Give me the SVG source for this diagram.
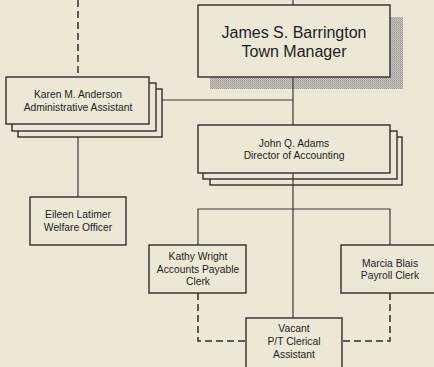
<svg xmlns="http://www.w3.org/2000/svg" width="434" height="367" viewBox="0 0 434 367">
<style>
.box{fill:#ebe8d5;stroke:#2e2e2e;stroke-width:1.4}
.ln{fill:none;stroke:#3a3a3a;stroke-width:1.2}
.dash{fill:none;stroke:#2e2e2e;stroke-width:1.5;stroke-dasharray:7 4}
text{font-family:"Liberation Sans",Arial,sans-serif;fill:#1e1e1e;text-anchor:middle}
.big{font-size:16px}
.sm{font-size:10.3px}
</style>
<defs>
<pattern id="stip" width="2" height="2" patternUnits="userSpaceOnUse">
<rect width="2" height="2" fill="#c6c4bc"/>
<rect width="1" height="1" fill="#9e9c96"/>
<rect x="1" y="1" width="1" height="1" fill="#aaa8a2"/>
</pattern>
</defs>
<rect width="434" height="367" fill="#ebe8d5"/>
<g id="connectors">
<line class="dash" x1="78" y1="0" x2="78" y2="77"/>
<line class="ln" x1="78" y1="137" x2="78" y2="197"/>
<line class="ln" x1="162" y1="100" x2="293" y2="100"/>
<line class="ln" x1="293" y1="0" x2="293" y2="5"/>
<polyline class="ln" points="198,245 198,209 390,209 390,245"/>
<path class="dash" d="M198,293 V341 H246 M390,293 V341 H342"/>
</g>
<g id="manager">
<rect x="210" y="17" width="193" height="72" fill="url(#stip)"/>
<rect class="box" x="198" y="5" width="192" height="72"/>
<line class="ln" x1="293" y1="77" x2="293" y2="125"/>
<text class="big" x="294" y="37.5">James S. Barrington</text>
<text class="big" x="294" y="57">Town Manager</text>
</g>
<g id="anderson">
<rect class="box" x="18" y="89" width="144" height="48"/>
<rect class="box" x="12" y="83" width="144" height="48"/>
<rect class="box" x="6" y="77" width="143" height="47"/>
<text class="sm" x="78" y="98">Karen M. Anderson</text>
<text class="sm" x="78" y="111">Administrative Assistant</text>
</g>
<g id="adams">
<rect class="box" x="210" y="137" width="192" height="48"/>
<rect class="box" x="203" y="131" width="194" height="48"/>
<rect class="box" x="198" y="125" width="192" height="48"/>
<line class="ln" x1="293" y1="173" x2="293" y2="318"/>
<text class="sm" x="294" y="147">John Q. Adams</text>
<text class="sm" x="294" y="159">Director of Accounting</text>
</g>
<g id="latimer">
<rect class="box" x="30" y="197" width="96" height="48"/>
<text class="sm" x="78" y="218">Eileen Latimer</text>
<text class="sm" x="78" y="231">Welfare Officer</text>
</g>
<g id="wright">
<rect class="box" x="149" y="245" width="97" height="48"/>
<text class="sm" x="198" y="260">Kathy Wright</text>
<text class="sm" x="198" y="272.5">Accounts Payable</text>
<text class="sm" x="198" y="285">Clerk</text>
</g>
<g id="blais">
<rect class="box" x="341" y="245" width="97" height="48"/>
<text class="sm" x="390" y="266.5">Marcia Blais</text>
<text class="sm" x="390" y="279">Payroll Clerk</text>
</g>
<g id="vacant">
<rect class="box" x="246" y="318" width="96" height="52"/>
<text class="sm" x="294" y="332">Vacant</text>
<text class="sm" x="294" y="345">P/T Clerical</text>
<text class="sm" x="294" y="358">Assistant</text>
</g>
</svg>
